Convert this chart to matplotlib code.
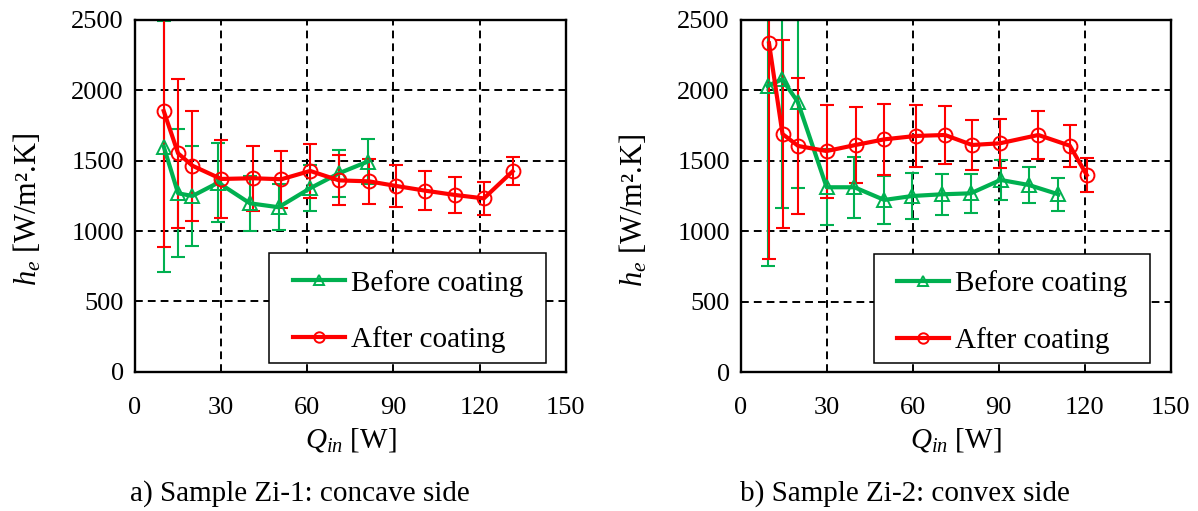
import matplotlib
matplotlib.use("Agg")
import matplotlib.pyplot as plt
from matplotlib.patches import Rectangle

plt.rcParams['font.family'] = ['Liberation Serif', 'DejaVu Serif']
plt.rcParams['mathtext.fontset'] = 'custom'
plt.rcParams['mathtext.rm'] = 'Liberation Serif'
plt.rcParams['mathtext.it'] = 'Liberation Serif:italic'

GREEN = '#00B050'
RED = '#FF0000'

# Panel a) Sample Zi-1, concave side
q_before_a = [10, 15, 20, 29, 40, 50, 61, 71, 81]
h_before_a = [1600, 1268, 1249, 1344, 1197, 1169, 1304, 1410, 1493]
err_before_a = [890, 456, 355, 283, 195, 162, 165, 165, 160]

q_after_a = [10, 15, 20, 30, 41, 51, 61, 71, 81.5, 91, 101, 111.5, 121.5, 131.5]
h_after_a = [1853, 1552, 1464, 1370, 1375, 1368, 1427, 1360, 1353, 1320, 1287, 1256, 1232, 1424]
err_after_a = [965, 532, 390, 280, 232, 203, 195, 178, 158, 150, 140, 130, 116, 100]

# Panel b) Sample Zi-2, convex side
q_before_b = [9.3, 14.4, 19.8, 29.9, 39.6, 50, 59.8, 70, 80.2, 90.6, 100.5, 110.8]
h_before_b = [2032, 2079, 1920, 1313, 1313, 1223, 1251, 1263, 1270, 1365, 1329, 1263]
err_before_b = [1280, 910, 615, 268, 218, 172, 160, 145, 140, 140, 128, 115]

q_after_b = [9.8, 14.5, 20, 29.9, 40, 50, 61, 71.2, 80.7, 90.4, 103.8, 114.8, 120.7]
h_after_b = [2334, 1691, 1606, 1570, 1613, 1653, 1677, 1684, 1613, 1625, 1684, 1608, 1400]
err_after_b = [1530, 670, 485, 330, 270, 250, 220, 205, 177, 175, 168, 148, 122]

x_ticks = [0, 30, 60, 90, 120, 150]
y_ticks = [0, 500, 1000, 1500, 2000, 2500]
captions = ['a) Sample Zi-1: concave side', 'b) Sample Zi-2: convex side']
series_labels = ['Before coating', 'After coating']

FS_TICK = 19
FS_TEXT = 21

fig = plt.figure(figsize=(11.98, 5.11), dpi=100)
ax_a = fig.add_axes([0.1127, 0.2726, 0.3595, 0.6883])
ax_b = fig.add_axes([0.6185, 0.2714, 0.3587, 0.6895])


def draw_series(ax, q, h, err, color, marker, label):
    ax.errorbar(q, h, yerr=err, fmt='none', ecolor=color, elinewidth=1.5,
                capsize=4.7, capthick=1.5, zorder=3)
    ax.plot(q, h, color=color, lw=3, marker=marker, markersize=10,
            markerfacecolor='none', markeredgecolor=color, markeredgewidth=1.4,
            label=label, zorder=4)


panels = [
    (ax_a, q_before_a, h_before_a, err_before_a, q_after_a, h_after_a, err_after_a,
     (0.312, 0.954), 0.366),
    (ax_b, q_before_b, h_before_b, err_before_b, q_after_b, h_after_b, err_after_b,
     (0.310, 0.953), 0.362),
]

for ax, qb, hb, eb, qa, ha, ea, box_x, handle_x in panels:
    draw_series(ax, qb, hb, eb, GREEN, '^', series_labels[0])
    draw_series(ax, qa, ha, ea, RED, 'o', series_labels[1])
    ax.set_xlim(0, 150)
    ax.set_ylim(0, 2500)
    ax.set_xticks(x_ticks)
    ax.set_yticks(y_ticks)
    ax.tick_params(length=0, labelsize=FS_TICK)
    ax.tick_params(axis='x', pad=18)
    ax.tick_params(axis='y', pad=8)
    ax.grid(True, color='black', linestyle=(0, (4, 2.6)), linewidth=1.4)
    ax.set_axisbelow(True)
    for sp in ax.spines.values():
        sp.set_linewidth(1.7)
        sp.set_color('black')
        sp.set_zorder(5)
    ax.set_xlabel(r'$Q_{in}$ [W]', fontsize=FS_TEXT, labelpad=5)
    ax.set_ylabel(r'$h_e$ [W/m²' + '.K]', fontsize=FS_TEXT + 1)
    ax.yaxis.set_label_coords(-0.212, 0.46)

    # legend frame drawn as a white box, entries placed inside it
    frame = Rectangle((box_x[0], 0.0256), box_x[1] - box_x[0], 0.311,
                      transform=ax.transAxes, facecolor='white',
                      edgecolor='black', linewidth=1.1, zorder=6)
    ax.add_patch(frame)
    leg = ax.legend(loc='upper left', bbox_to_anchor=(handle_x, 0.29),
                    fontsize=FS_TEXT, frameon=False, handlelength=1.8,
                    handletextpad=0.2, labelspacing=1.02, borderpad=0,
                    markerscale=0.75, borderaxespad=0)
    leg.set_zorder(7)

fig.text(0.2505, 0.035, captions[0], fontsize=FS_TEXT, ha='center', va='center')
fig.text(0.7555, 0.035, captions[1], fontsize=FS_TEXT, ha='center', va='center')

fig.savefig('out.png', dpi=100)
